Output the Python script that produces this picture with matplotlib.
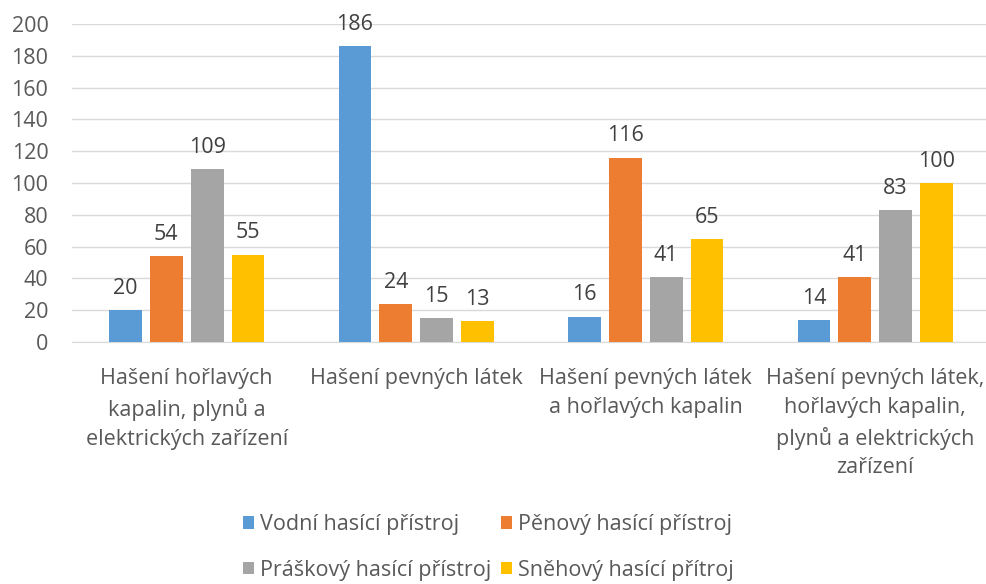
import matplotlib
matplotlib.use("Agg")
import matplotlib.pyplot as plt
import numpy as np

categories = ["Hašení hořlavých\nkapalin, plynů a\nelektrických zařízení",
              "Hašení pevných látek",
              "Hašení pevných látek\na hořlavých kapalin",
              "Hašení pevných látek,\nhořlavých kapalin,\nplynů a elektrických\nzařízení"]
series_names = ["Vodní hasící přístroj", "Pěnový hasící přístroj",
                "Práškový hasící přístroj", "Sněhový hasící přítroj"]
vodni = [20, 186, 16, 14]
penovy = [54, 24, 116, 41]
praskovy = [109, 15, 41, 83]
snehovy = [55, 13, 65, 100]
colors = ["#5B9BD5", "#ED7D31", "#A5A5A5", "#FFC000"]

plt.rcParams['font.family'] = ['Open Sans', 'DejaVu Sans']
txt = "#595959"
fs = 15.5

fig = plt.figure(figsize=(9.87, 5.84), dpi=100)
ax = fig.add_axes([72/987, 1-342/584, (990-72)/987, (342-24)/584])

x = np.arange(len(categories))
w = 0.143
step = 0.178
handles = []
for i, (vals, name, c) in enumerate(zip([vodni, penovy, praskovy, snehovy], series_names, colors)):
    pos = x + (i - 1.5) * step
    bars = ax.bar(pos, vals, width=w, color=c, label=name, zorder=3)
    handles.append(bars)
    for b, v in zip(bars, vals):
        ax.text(b.get_x() + b.get_width()/2, v + 7, str(v), ha='center', va='bottom',
                fontsize=fs, color="#404040")

ax.set_ylim(0, 200)
ax.set_xlim(-0.5, 3.5)
ax.set_yticks(range(0, 201, 20))
ax.yaxis.grid(True, color="#D9D9D9", linewidth=1, zorder=0)
ax.set_axisbelow(True)
for s in ["top", "right", "left"]:
    ax.spines[s].set_visible(False)
ax.spines["bottom"].set_color("#D9D9D9")
ax.tick_params(axis='both', length=0, labelsize=fs, colors=txt)
ax.tick_params(axis='y', pad=17)
ax.set_xticks(x)
ax.set_xticklabels(categories, linespacing=1.48, fontsize=fs, color=txt, va='top')
ax.tick_params(axis='x', pad=19)

order = [0, 2, 1, 3]
leg = fig.legend([handles[k] for k in order], [series_names[k] for k in order],
                 loc='center', bbox_to_anchor=(0.495, 0.0625), ncol=2, frameon=False,
                 fontsize=fs, labelcolor=txt, handlelength=0.5, handleheight=0.5,
                 handletextpad=0.3, columnspacing=0.45, labelspacing=1.15,
                 borderpad=0)

fig.savefig("out.png", dpi=100)
